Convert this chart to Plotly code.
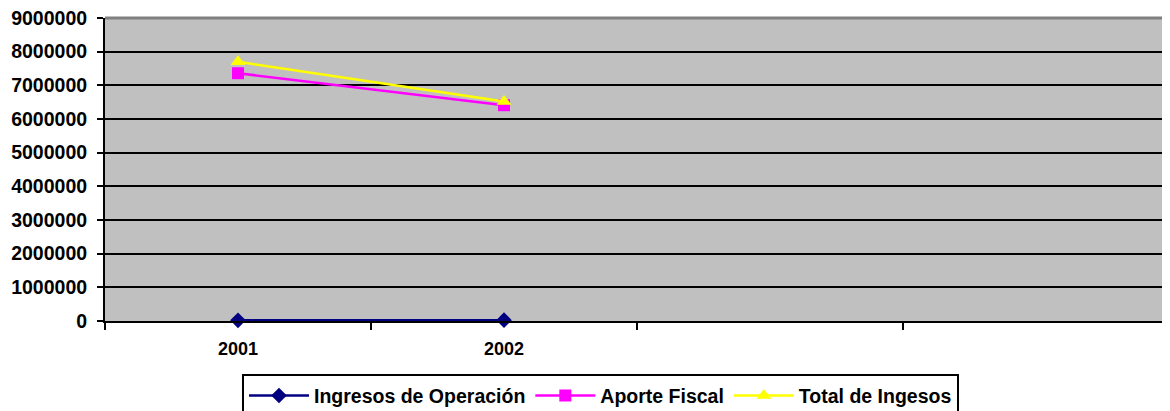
import plotly.graph_objects as go

# categories on the x axis (last two slots are empty in the source chart)
years = ["2001", "2002"]
slots = ["2001", "2002", " ", "  "]

ingresos_operacion = [20000, 25000]
aporte_fiscal = [7360000, 6410000]
total_ingresos = [7700000, 6520000]

y_ticks = list(range(0, 9000001, 1000000))

family = "Liberation Sans, Arial, sans-serif"
font_main = dict(family=family, size=19.5, color="black", weight="bold")

fig = go.Figure()

fig.add_trace(go.Scatter(
    x=years, y=ingresos_operacion, name="Ingresos de Operación",
    mode="lines+markers", cliponaxis=False,
    line=dict(color="#000080", width=2.5),
    marker=dict(symbol="diamond", size=12, color="#000080"),
))
fig.add_trace(go.Scatter(
    x=years, y=aporte_fiscal, name="Aporte Fiscal",
    mode="lines+markers", cliponaxis=False,
    line=dict(color="#FF00FF", width=2.5),
    marker=dict(symbol="square", size=12, color="#FF00FF"),
))
fig.add_trace(go.Scatter(
    x=years, y=total_ingresos, name="Total de Ingesos",
    mode="lines+markers", cliponaxis=False,
    line=dict(color="#FFFF00", width=2.5),
    marker=dict(symbol="triangle-up", size=13, color="#FFFF00"),
))

# page body has an 8px margin, so the figure is sized/offset to compensate
fig.update_layout(
    width=1162, height=403,
    margin=dict(l=97, r=1, t=10, b=90),
    paper_bgcolor="white",
    plot_bgcolor="#C0C0C0",
    font=font_main,
    showlegend=True,
    legend=dict(
        orientation="h",
        x=0.4657, xanchor="center",
        yref="container",
        y=0.091, yanchor="top",
        bgcolor="white",
        bordercolor="black", borderwidth=2,
        font=font_main,
        itemwidth=60,
        tracegroupgap=0,
    ),
    xaxis=dict(
        type="category",
        categoryorder="array", categoryarray=slots,
        range=[-0.5, 3.5],
        tickson="boundaries",
        ticks="outside", ticklen=7, tickwidth=2, tickcolor="black",
        showline=True, linecolor="black", linewidth=2,
        showgrid=False,
        automargin=False,
        ticklabelstandoff=10,
        tickfont=dict(family=family, size=18, color="black", weight="bold"),
    ),
    yaxis=dict(
        range=[0, 9000000],
        tickvals=y_ticks,
        tickformat="d",
        ticks="outside", ticklen=6, tickwidth=2, tickcolor="black",
        showline=True, linecolor="black", linewidth=2,
        showgrid=True, gridcolor="black", gridwidth=2,
        zeroline=False,
        automargin=False,
        ticklabeloverflow="allow",
        ticklabelstandoff=6,
        tickfont=dict(family=family, size=19.5, color="black", weight="bold"),
    ),
    shapes=[
        dict(type="line", xref="paper", yref="paper", x0=0, x1=1, y0=1, y1=1,
             line=dict(color="#808080", width=3), layer="above"),
        dict(type="line", xref="paper", yref="paper", x0=1, x1=1, y0=0, y1=1,
             line=dict(color="#808080", width=2), layer="above"),
    ],
)

fig.write_html("out.html")
